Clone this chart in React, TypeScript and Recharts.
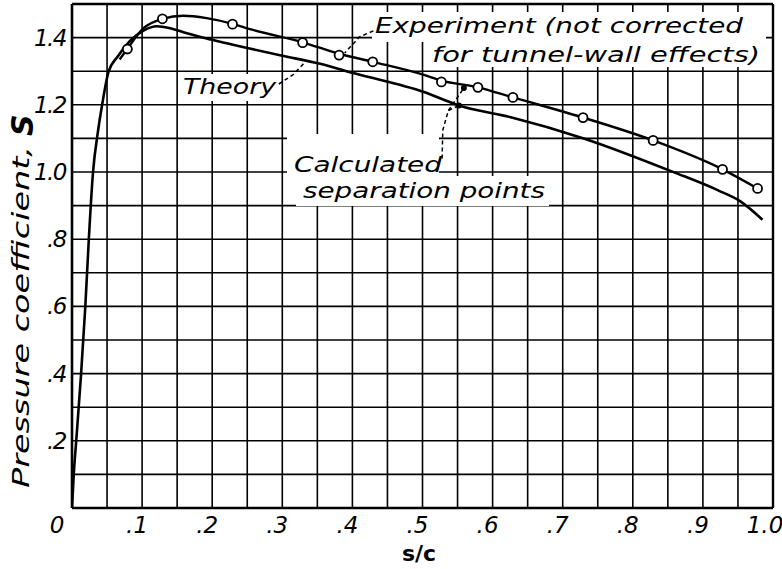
import React from 'react';
import { ComposedChart, Line, Scatter, XAxis, YAxis, CartesianGrid, ReferenceLine } from 'recharts';

// ---- data ----
const xGridTicks = [0, 0.05, 0.1, 0.15, 0.2, 0.25, 0.3, 0.35, 0.4, 0.45, 0.5, 0.55, 0.6, 0.65, 0.7, 0.75, 0.8, 0.85, 0.9, 0.95, 1.0];
const yGridTicks = [0, 0.1, 0.2, 0.3, 0.4, 0.5, 0.6, 0.7, 0.8, 0.9, 1.0, 1.1, 1.2, 1.3, 1.4, 1.5];
const xLabelValues = [0, 0.1, 0.2, 0.3, 0.4, 0.5, 0.6, 0.7, 0.8, 0.9, 1.0];
const xLabelText = ['0', '.1', '.2', '.3', '.4', '.5', '.6', '.7', '.8', '.9', '1.0'];
const yLabelValues = [0.2, 0.4, 0.6, 0.8, 1.0, 1.2, 1.4];
const yLabelText = ['.2', '.4', '.6', '.8', '1.0', '1.2', '1.4'];

const theoryCurve = [
  { x: 0, y: 0 }, { x: 0.0025, y: 0.1 }, { x: 0.006, y: 0.2 }, { x: 0.013, y: 0.4 },
  { x: 0.019, y: 0.6 }, { x: 0.024, y: 0.8 }, { x: 0.03, y: 1.0 }, { x: 0.037, y: 1.12 },
  { x: 0.043, y: 1.2 }, { x: 0.052, y: 1.297 }, { x: 0.066, y: 1.346 }, { x: 0.083, y: 1.391 },
  { x: 0.102, y: 1.421 }, { x: 0.121, y: 1.434 }, { x: 0.14, y: 1.428 }, { x: 0.164, y: 1.413 },
  { x: 0.192, y: 1.397 }, { x: 0.221, y: 1.383 }, { x: 0.25, y: 1.369 }, { x: 0.3, y: 1.346 },
  { x: 0.354, y: 1.322 }, { x: 0.404, y: 1.293 }, { x: 0.502, y: 1.238 }, { x: 0.552, y: 1.198 },
  { x: 0.626, y: 1.163 }, { x: 0.73, y: 1.1 }, { x: 0.859, y: 0.999 }, { x: 0.921, y: 0.946 },
  { x: 0.954, y: 0.912 }, { x: 0.985, y: 0.858 },
];

const experimentCurve = [
  { x: 0.068, y: 1.335 }, { x: 0.079, y: 1.367 }, { x: 0.102, y: 1.428 }, { x: 0.129, y: 1.456 },
  { x: 0.159, y: 1.465 }, { x: 0.192, y: 1.458 }, { x: 0.229, y: 1.441 }, { x: 0.254, y: 1.425 },
  { x: 0.329, y: 1.386 }, { x: 0.381, y: 1.352 }, { x: 0.429, y: 1.328 }, { x: 0.502, y: 1.289 },
  { x: 0.527, y: 1.272 }, { x: 0.579, y: 1.252 }, { x: 0.629, y: 1.222 }, { x: 0.729, y: 1.162 },
  { x: 0.829, y: 1.094 }, { x: 0.928, y: 1.008 }, { x: 0.978, y: 0.951 },
];

const experimentPoints = [
  { x: 0.079, y: 1.366 }, { x: 0.129, y: 1.456 }, { x: 0.229, y: 1.44 }, { x: 0.329, y: 1.385 },
  { x: 0.381, y: 1.348 }, { x: 0.429, y: 1.328 }, { x: 0.527, y: 1.268 }, { x: 0.579, y: 1.252 },
  { x: 0.629, y: 1.222 }, { x: 0.729, y: 1.162 }, { x: 0.829, y: 1.094 }, { x: 0.928, y: 1.008 },
  { x: 0.978, y: 0.951 },
];

const separationPoints = [
  { x: 0.559, y: 1.25 }, { x: 0.552, y: 1.198 },
];

// annotation leaders (data coordinates)
const experimentLeader = [{ x: 0.43, y: 1.42 }, { x: 0.41, y: 1.402 }, { x: 0.389, y: 1.354 }];
const theoryLeader = [{ x: 0.295, y: 1.262 }, { x: 0.315, y: 1.289 }, { x: 0.332, y: 1.326 }];
const calcLeaderA = [{ x: 0.528, y: 1.04 }, { x: 0.529, y: 1.125 }, { x: 0.537, y: 1.183 }, { x: 0.552, y: 1.198 }];
const calcLeaderB = [{ x: 0.537, y: 1.183 }, { x: 0.559, y: 1.25 }];

// ---- layout ----
const W = 782;
const H = 569;
const M = { top: 4, right: 9, left: 12, bottom: 21 };
const Y_AXIS_W = 60;
const X_AXIS_H = 40;
const PLOT_L = M.left + Y_AXIS_W;
const PLOT_R = W - M.right;
const PLOT_T = M.top;
const PLOT_B = H - M.bottom - X_AXIS_H;
const px = (x: number) => PLOT_L + x * (PLOT_R - PLOT_L);
const py = (y: number) => PLOT_B - (y / 1.5) * (PLOT_B - PLOT_T);

const FONT = "'DejaVu Sans', 'Liberation Sans', sans-serif";

const XTick = (props: any) => {
  const { x, y, payload } = props;
  const i = xLabelValues.findIndex((v) => Math.abs(v - payload.value) < 1e-6);
  if (i < 0) return <g />;
  const dx = i === 0 ? -15 : i === 10 ? -8 : -5;
  return (
    <text x={x + dx} y={y + 25} textAnchor="middle" fontFamily={FONT} fontStyle="italic" fontSize={23} fill="#000">
      {xLabelText[i]}
    </text>
  );
};

const YTick = (props: any) => {
  const { x, y, payload } = props;
  const i = yLabelValues.findIndex((v) => Math.abs(v - payload.value) < 1e-6);
  if (i < 0) return <g />;
  return (
    <text x={x - 6} y={y + 8} textAnchor="end" fontFamily={FONT} fontStyle="italic" fontSize={23} fill="#000" letterSpacing={-1.5}>
      {yLabelText[i]}
    </text>
  );
};

const OpenCircle = (props: any) => {
  const { cx, cy } = props;
  return <circle cx={cx} cy={cy} r={4.5} fill="#fff" stroke="#000" strokeWidth={1.8} />;
};

const FilledDot = (props: any) => {
  const { cx, cy } = props;
  return <circle cx={cx} cy={cy} r={3} fill="#000" stroke="none" />;
};

const pathOf = (pts: { x: number; y: number }[]) =>
  pts.map((p, i) => `${i === 0 ? 'M' : 'L'}${px(p.x).toFixed(1)},${py(p.y).toFixed(1)}`).join(' ');

export default function App() {
  return (
    <div style={{ position: 'absolute', left: 0, top: 0, width: W, height: H, background: '#fff' }}>
      <ComposedChart width={W} height={H} margin={M}>
        <CartesianGrid stroke="#000" strokeWidth={1.6} horizontalValues={yGridTicks} verticalValues={xGridTicks} />
        <XAxis
          type="number"
          dataKey="x"
          domain={[0, 1]}
          ticks={xGridTicks}
          interval={0}
          height={X_AXIS_H}
          tickSize={0}
          tickMargin={0}
          tickLine={false}
          axisLine={{ stroke: '#000', strokeWidth: 2.6 }}
          tick={<XTick />}
          allowDataOverflow
        />
        <YAxis
          type="number"
          dataKey="y"
          domain={[0, 1.5]}
          ticks={yGridTicks}
          interval={0}
          width={Y_AXIS_W}
          tickSize={0}
          tickMargin={0}
          tickLine={false}
          axisLine={{ stroke: '#000', strokeWidth: 2.6 }}
          tick={<YTick />}
          allowDataOverflow
        />
        <ReferenceLine y={1.5} stroke="#000" strokeWidth={2.4} />
        <ReferenceLine x={1} stroke="#000" strokeWidth={2.4} />
        <Line data={theoryCurve} dataKey="y" type="monotone" stroke="#000" strokeWidth={2.6} dot={false} isAnimationActive={false} />
        <Line data={experimentCurve} dataKey="y" type="monotone" stroke="#000" strokeWidth={2.4} dot={false} isAnimationActive={false} />
        <Scatter data={experimentPoints} dataKey="y" shape={<OpenCircle />} isAnimationActive={false} />
        <Scatter data={separationPoints} dataKey="y" shape={<FilledDot />} isAnimationActive={false} />
      </ComposedChart>
      <svg
        width={W}
        height={H}
        style={{ position: 'absolute', left: 0, top: 0, pointerEvents: 'none' }}
      >
        {/* white boxes behind annotations */}
        <rect x={372} y={12} width={394} height={30} fill="#fff" />
        <rect x={428} y={42} width={338} height={25} fill="#fff" />
        <rect x={180} y={74} width={97} height={27} fill="#fff" />
        <rect x={287} y={134} width={152} height={42} fill="#fff" />
        <rect x={296} y={176} width={253} height={30} fill="#fff" />

        {/* leaders */}
        <g fill="none" stroke="#000" strokeWidth={1.5} strokeDasharray="4 3">
          <path d={pathOf(experimentLeader)} />
          <path d={pathOf(theoryLeader)} />
          <path d={pathOf(calcLeaderA)} />
          <path d={pathOf(calcLeaderB)} />
        </g>

        <g fontFamily={FONT} fontStyle="italic" fontSize={22} fill="#000">
          <text x={375} y={33} textLength={368} lengthAdjust="spacingAndGlyphs">Experiment (not corrected</text>
          <text x={432} y={62} textLength={328} lengthAdjust="spacingAndGlyphs">for tunnel-wall effects)</text>
          <text x={183} y={94} textLength={93} lengthAdjust="spacingAndGlyphs">Theory</text>
          <text x={294} y={172} textLength={148} lengthAdjust="spacingAndGlyphs">Calculated</text>
          <text x={303} y={198} textLength={242} lengthAdjust="spacingAndGlyphs">separation points</text>
        </g>

        <text
          transform="translate(29,488) rotate(-90)"
          fontFamily={FONT}
          fontStyle="italic"
          fontSize={23}
          fill="#000"
          textLength={342}
          lengthAdjust="spacingAndGlyphs"
        >
          Pressure coefficient,
        </text>
        <text
          transform="translate(33,136) rotate(-90)"
          fontFamily={FONT}
          fontStyle="italic"
          fontWeight="bold"
          fontSize={30}
          fill="#000"
        >
          S
        </text>
        <text x={419} y={561} textAnchor="middle" fontFamily={FONT} fontWeight="bold" fontSize={22} fill="#000">
          s/c
        </text>
      </svg>
    </div>
  );
}
